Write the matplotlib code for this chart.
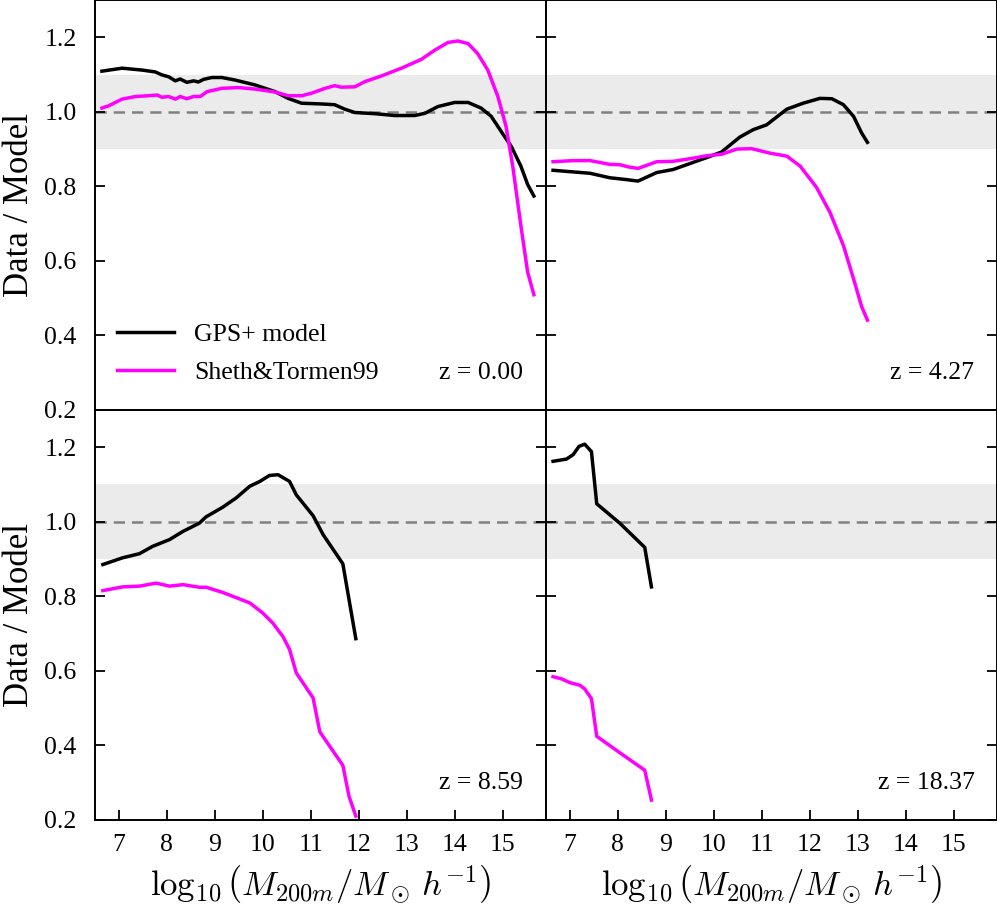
import numpy as np
import matplotlib
matplotlib.use("Agg")
import matplotlib.pyplot as plt

plt.rcParams["font.family"] = ["Liberation Serif", "DejaVu Serif"]
plt.rcParams["mathtext.fontset"] = "cm"

redshifts = ["0.00", "4.27", "8.59", "18.37"]

# z = 0.00
gps_x_0 = [6.65, 7.07, 7.48, 7.76, 7.9, 8.04, 8.18, 8.28, 8.42, 8.56, 8.66, 8.77, 8.94, 9.15, 9.43,
           9.84, 10.26, 10.53, 10.81, 11.23, 11.5, 11.71, 11.92, 12.33, 12.75, 13.17, 13.38, 13.65,
           14.0, 14.28, 14.55, 14.76, 14.97, 15.18, 15.38, 15.52, 15.65]
gps_y_0 = [1.109, 1.117, 1.112, 1.107, 1.099, 1.094, 1.083, 1.088, 1.079, 1.083, 1.08, 1.087, 1.092,
           1.092, 1.085, 1.072, 1.054, 1.036, 1.023, 1.021, 1.019, 1.007, 0.998, 0.995, 0.990, 0.990,
           0.996, 1.014, 1.025, 1.025, 1.01, 0.988, 0.947, 0.907, 0.854, 0.805, 0.774]
st_x_0 = [6.65, 6.79, 7.07, 7.35, 7.62, 7.8, 7.9, 8.04, 8.18, 8.28, 8.42, 8.56, 8.7, 8.84, 9.15, 9.49,
          9.84, 10.26, 10.53, 10.81, 11.02, 11.3, 11.5, 11.64, 11.92, 12.13, 12.47, 12.89, 13.31,
          13.58, 13.86, 14.07, 14.28, 14.48, 14.69, 14.9, 15.07, 15.21, 15.38, 15.52, 15.65]
st_y_0 = [1.01, 1.016, 1.034, 1.041, 1.043, 1.045, 1.039, 1.041, 1.034, 1.041, 1.035, 1.041, 1.041,
          1.054, 1.063, 1.065, 1.061, 1.053, 1.043, 1.043, 1.05, 1.063, 1.07, 1.066, 1.067, 1.081,
          1.096, 1.117, 1.141, 1.165, 1.186, 1.19, 1.183, 1.156, 1.112, 1.041, 0.961, 0.854, 0.694,
          0.570, 0.509]

# z = 4.27
gps_x_1 = [6.65, 7.42, 7.83, 8.18, 8.42, 8.81, 9.15, 9.5, 9.85, 10.16, 10.54, 10.82, 11.1, 11.52,
           11.86, 12.21, 12.46, 12.7, 12.91, 13.08, 13.2]
gps_y_1 = [0.843, 0.835, 0.823, 0.818, 0.814, 0.837, 0.845, 0.861, 0.877, 0.892, 0.932, 0.952, 0.965,
           1.007, 1.023, 1.036, 1.035, 1.019, 0.988, 0.943, 0.918]
st_x_1 = [6.65, 7.07, 7.42, 7.83, 8.04, 8.22, 8.42, 8.81, 9.15, 9.5, 9.85, 10.16, 10.48, 10.79,
          11.17, 11.52, 11.8, 12.14, 12.42, 12.7, 12.91, 13.08, 13.2]
st_y_1 = [0.866, 0.869, 0.869, 0.859, 0.858, 0.852, 0.848, 0.866, 0.867, 0.874, 0.882, 0.886, 0.9,
          0.901, 0.889, 0.881, 0.854, 0.797, 0.73, 0.641, 0.552, 0.477, 0.441]

# z = 8.59
gps_x_2 = [6.67, 7.08, 7.43, 7.71, 8.06, 8.34, 8.68, 8.82, 9.17, 9.45, 9.73, 9.94, 10.14, 10.32,
           10.56, 10.7, 11.05, 11.26, 11.67, 11.94]
gps_y_2 = [0.885, 0.903, 0.914, 0.934, 0.952, 0.974, 0.996, 1.013, 1.039, 1.064, 1.095, 1.108, 1.124,
           1.126, 1.108, 1.072, 1.016, 0.965, 0.887, 0.686]
st_x_2 = [6.67, 7.08, 7.43, 7.78, 8.06, 8.34, 8.68, 8.82, 9.17, 9.45, 9.73, 10.0, 10.21, 10.42,
          10.56, 10.7, 11.05, 11.19, 11.67, 11.8, 11.94]
st_y_2 = [0.815, 0.825, 0.827, 0.835, 0.827, 0.831, 0.824, 0.824, 0.81, 0.796, 0.782, 0.755, 0.728,
          0.692, 0.657, 0.594, 0.527, 0.436, 0.346, 0.262, 0.21]

# z = 18.37
gps_x_3 = [6.65, 6.93, 7.07, 7.19, 7.31, 7.45, 7.56, 8.04, 8.56, 8.7]
gps_y_3 = [1.162, 1.168, 1.18, 1.202, 1.208, 1.188, 1.048, 0.996, 0.931, 0.825]
st_x_3 = [6.65, 6.83, 7.0, 7.21, 7.31, 7.45, 7.56, 8.04, 8.56, 8.7]
st_y_3 = [0.584, 0.578, 0.568, 0.561, 0.551, 0.525, 0.424, 0.38, 0.333, 0.253]

gps_x = [gps_x_0, gps_x_1, gps_x_2, gps_x_3]
gps_y = [gps_y_0, gps_y_1, gps_y_2, gps_y_3]
st_x = [st_x_0, st_x_1, st_x_2, st_x_3]
st_y = [st_y_0, st_y_1, st_y_2, st_y_3]

fig, axes = plt.subplots(2, 2, figsize=(9.97, 9.18), dpi=100, sharex=True, sharey=True)
fig.subplots_adjust(left=0.095, right=1.0, top=1.0, bottom=0.107, wspace=0, hspace=0)

for i, ax in enumerate(axes.flat):
    ax.axhspan(0.9, 1.1, color="0.92", lw=0, zorder=0)
    ax.axhline(1.0, color="0.5", ls="--", lw=1.8, dashes=(4.5, 2.8), zorder=1)
    ax.plot(gps_x[i], gps_y[i], color="black", lw=2.5, label="GPS+ model")
    ax.plot(st_x[i], st_y[i], color="magenta", lw=2.5, label="Sheth&Tormen99")
    ax.text(0.95, 0.062, f"z = {redshifts[i]}", transform=ax.transAxes,
            ha="right", va="bottom", fontsize=18.5)
    ax.set_xlim(6.5, 15.9)
    ax.set_ylim(0.2, 1.3)
    ax.set_xticks(np.arange(7, 16))
    ax.set_yticks([0.2, 0.4, 0.6, 0.8, 1.0, 1.2])
    ax.tick_params(direction="in", length=7, width=1.3, labelsize=18.5,
                   left=True, right=True, top=False, bottom=(i >= 2))
    ax.tick_params(axis="y", pad=13)
    ax.tick_params(axis="x", pad=10)
    for s in ax.spines.values():
        s.set_linewidth(1.4)
    if i >= 2:
        ax.set_xlabel(r"$\log_{10}\left(M_{200m}/M_\odot\,h^{-1}\right)$", fontsize=25, labelpad=6)
    if i % 2 == 0:
        ax.set_ylabel("Data / Model", fontsize=25, labelpad=6)

axes[0, 0].legend(loc="lower left", bbox_to_anchor=(0.05, 0.062), borderaxespad=0, borderpad=0,
                  frameon=False, fontsize=18.5, handlelength=2.2, handletextpad=0.8,
                  labelspacing=0.62)

fig.savefig("out.png", dpi=100)
